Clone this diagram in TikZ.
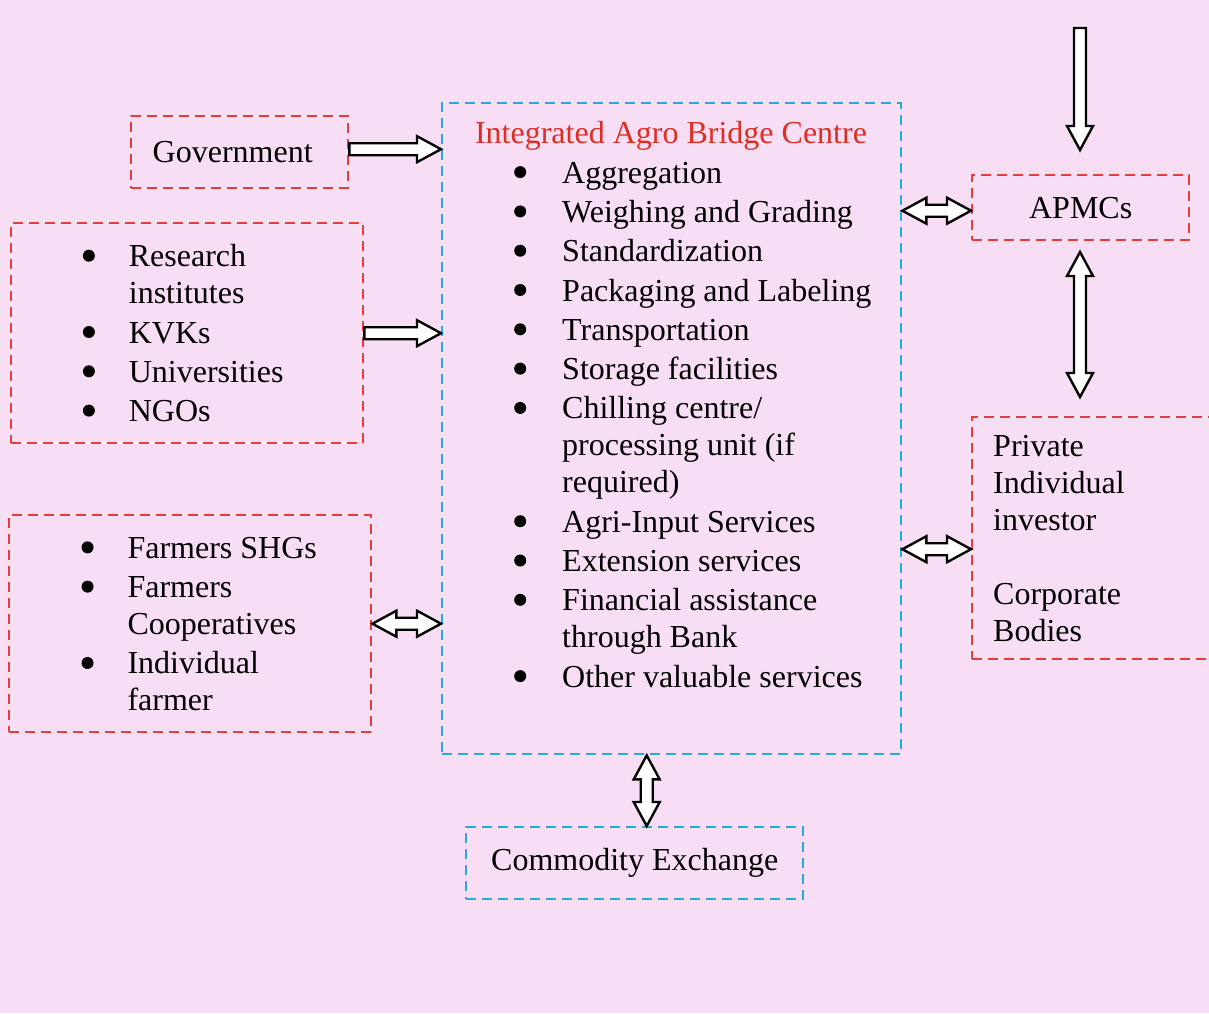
\documentclass[tikz,border=0pt]{standalone}
\usepackage{fontspec}
\setmainfont{Liberation Serif}
\usetikzlibrary{calc}

\definecolor{bgpink}{RGB}{247,222,244}
\definecolor{boxred}{RGB}{230,62,56}
\definecolor{boxcyan}{RGB}{35,172,218}
\definecolor{titlered}{RGB}{222,45,35}

% fat outlined arrows: shaft half width, head half width, head length
\newcommand\arrw{6pt}
\newcommand\arrW{13pt}
\newcommand\arrh{24pt}

\tikzset{
  every node/.style={font=\fontsize{32}{37}\selectfont},
  dbox/.style={draw, dash pattern=on 10pt off 6pt, line width=2.4pt, inner sep=0pt},
  redbox/.style={dbox, draw=boxred},
  cyanbox/.style={dbox, draw=boxcyan},
  fat/.style={draw=black, fill=white, line width=2.4pt, line join=miter},
}

% big round bullet
\newcommand\bul{\tikz[baseline=0pt]\fill (0pt,11pt) circle[radius=6pt];}
% bullet list as a two column tabular
\newcommand\blist[2][34pt]{\begin{tabular}{@{}c@{\hspace{#1}}l@{}}#2\end{tabular}}

% single headed arrow from #1 to #2
\newcommand\fatarrow[2]{%
  \draw[fat] ($(#1)!\arrw!90:(#2)$)
    -- ($(#2)!\arrh!(#1)!\arrw!90:(#2)$)
    -- ($(#2)!\arrh!(#1)!\arrW!90:(#2)$)
    -- (#2)
    -- ($(#2)!\arrh!(#1)!\arrW!-90:(#2)$)
    -- ($(#2)!\arrh!(#1)!\arrw!-90:(#2)$)
    -- ($(#1)!\arrw!-90:(#2)$) -- cycle;}

% double headed arrow between #1 and #2
\newcommand\fatdarrow[2]{%
  \draw[fat] (#1)
    -- ($(#1)!\arrh!(#2)!\arrW!90:(#2)$)
    -- ($(#1)!\arrh!(#2)!\arrw!90:(#2)$)
    -- ($(#2)!\arrh!(#1)!\arrw!90:(#2)$)
    -- ($(#2)!\arrh!(#1)!\arrW!90:(#2)$)
    -- (#2)
    -- ($(#2)!\arrh!(#1)!\arrW!-90:(#2)$)
    -- ($(#2)!\arrh!(#1)!\arrw!-90:(#2)$)
    -- ($(#1)!\arrh!(#2)!\arrw!-90:(#2)$)
    -- ($(#1)!\arrh!(#2)!\arrW!-90:(#2)$) -- cycle;}

\begin{document}
\begin{tikzpicture}[x=1pt,y=-1pt]
  \useasboundingbox (0,0) rectangle (1209,1013);
  \fill[bgpink] (0,0) rectangle (1209,1013);

  % centre box
  \node[cyanbox, minimum width=459pt, minimum height=651pt, anchor=north west] (ibc) at (441,102) {};
  \node[anchor=base, text=titlered] (ibctitle) at (671,143) {Integrated Agro Bridge Centre};
  \node[anchor=north west, inner sep=0pt] (ibclist) at (514,157) {\blist[36pt]{%
    \bul & Aggregation\\[2.3pt]
    \bul & Weighing and Grading\\[2.3pt]
    \bul & Standardization\\[2.3pt]
    \bul & Packaging and Labeling\\[2.3pt]
    \bul & Transportation\\[2.3pt]
    \bul & Storage facilities\\[2.3pt]
    \bul & Chilling centre/\\
         & processing unit (if\\
         & required)\\[2.3pt]
    \bul & Agri-Input Services\\[2.3pt]
    \bul & Extension services\\[2.3pt]
    \bul & Financial assistance\\
         & through Bank\\[2.3pt]
    \bul & Other valuable services}};

  % left side
  \node[redbox, minimum width=217pt, minimum height=72pt, anchor=north west] (gov) at (130,115) {Government\hspace*{14pt}};
  \node[redbox, minimum width=352pt, minimum height=220pt, anchor=north west] (res) at (10,222) {\hspace*{-8pt}\blist{%
    \bul & \rule{0pt}{33pt}Research\\
         & institutes\\[2.3pt]
    \bul & KVKs\\[2.3pt]
    \bul & Universities\\[2.3pt]
    \bul & NGOs}};
  \node[redbox, minimum width=362pt, minimum height=217pt, anchor=north west] (farm) at (8,514) {\hspace*{18pt}\blist{%
    \bul & \rule{0pt}{33pt}Farmers SHGs\\[2.3pt]
    \bul & Farmers\\
         & Cooperatives\\[2.3pt]
    \bul & Individual\\
         & farmer}};

  % right side and bottom
  \node[redbox, minimum width=217pt, minimum height=65pt, anchor=north west] (apmc) at (971,174) {APMCs};
  \node[redbox, minimum width=250pt, minimum height=242pt, anchor=north west,
        align=left, text width=208pt, inner xsep=21pt] (priv) at (971,416)
        {Private\\ Individual\\ investor\\[37pt] Corporate\\ Bodies};
  \node[cyanbox, minimum width=337pt, minimum height=72pt, anchor=north west] (comm) at (465,826) {Commodity Exchange};

  % arrows
  \coordinate (govr) at ([yshift=3pt]gov.east);
  \coordinate (ibcg) at (ibc.west |- govr);
  \fatarrow{govr}{ibcg}
  \coordinate (resr) at (res.east);
  \coordinate (ibcr) at (ibc.west |- res.east);
  \fatarrow{resr}{ibcr}
  \coordinate (farmr) at (farm.east);
  \coordinate (ibcf) at (ibc.west |- farm.east);
  \fatdarrow{farmr}{ibcf}
  \coordinate (apmcl) at ([yshift=-3pt]apmc.west);
  \coordinate (ibca) at (ibc.east |- apmcl);
  \fatdarrow{ibca}{apmcl}
  \coordinate (privl) at ([yshift=-11pt]priv.west);
  \coordinate (ibcp) at (ibc.east |- privl);
  \fatdarrow{ibcp}{privl}
  \coordinate (topa) at (1080,28);
  \coordinate (topb) at (topa |- 0,150);
  \fatarrow{topa}{topb}
  \coordinate (apmcb) at (1080,252);
  \coordinate (privt) at (apmcb |- 0,397);
  \fatdarrow{apmcb}{privt}
  \coordinate (commt) at ([xshift=12pt]comm.north);
  \coordinate (ibcc) at (ibc.south -| commt);
  \fatdarrow{ibcc}{commt}
\end{tikzpicture}
\end{document}
